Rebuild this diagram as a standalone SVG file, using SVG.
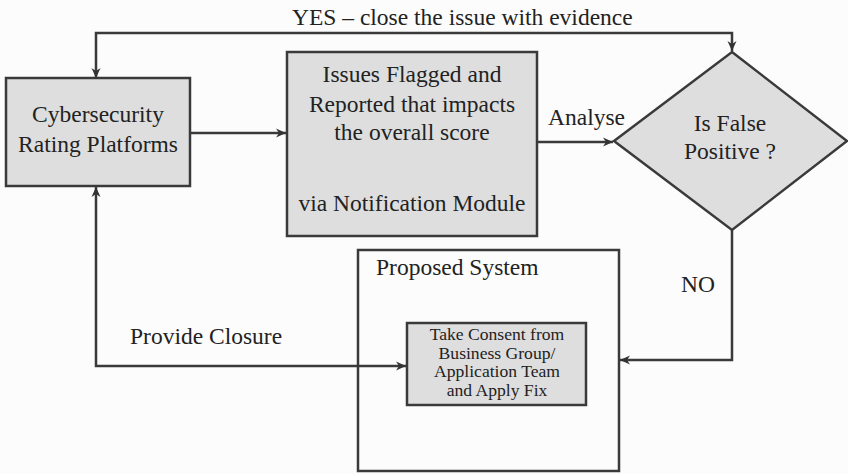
<svg xmlns="http://www.w3.org/2000/svg" width="848" height="474" viewBox="0 0 848 474" font-family="'Liberation Serif', 'Times New Roman', Times, serif">
<defs>
<marker id="arr" viewBox="0 0 12 12" refX="11" refY="6" markerWidth="12" markerHeight="12" markerUnits="userSpaceOnUse" orient="auto-start-reverse">
<path d="M1,1.5 L11,6 L1,10.5 L4,6 Z" fill="#333"/>
</marker>
</defs>
<style>
text{font-family:'Liberation Serif','Times New Roman',Times,serif;fill:#222;}
.t{font-size:23.5px;}
.s{font-size:17.6px;}
.box{fill:#dedede;stroke:#3a3a3a;stroke-width:2.5;}
.frame{fill:none;stroke:#3a3a3a;stroke-width:2.5;}
.c{fill:none;stroke:#3a3a3a;stroke-width:2.5;}
</style>
<rect x="0" y="0" width="848" height="474" fill="#fcfcfc"/>
<g id="connectors">
<polyline class="c" points="96,78 96,33 732,33 732,51" marker-start="url(#arr)" marker-end="url(#arr)"/>
<line class="c" x1="190" y1="133" x2="286" y2="133" marker-end="url(#arr)"/>
<line class="c" x1="515" y1="142" x2="613" y2="142" marker-end="url(#arr)"/>
<polyline class="c" points="732,230 732,360 620,360" marker-end="url(#arr)"/>
<polyline class="c" points="96,187 96,366 406,366" marker-start="url(#arr)" marker-end="url(#arr)"/>
<text class="t" x="292" y="25">YES – close the issue with evidence</text>
<text class="t" x="548" y="125">Analyse</text>
<text class="t" x="681" y="292">NO</text>
<text class="t" x="130" y="344">Provide Closure</text>
</g>
<g id="cybersecurity">
<rect class="box" x="6" y="78" width="184" height="108"/>
<text class="t" x="98" y="122" text-anchor="middle">Cybersecurity</text>
<text class="t" x="98" y="152" text-anchor="middle">Rating Platforms</text>
</g>
<g id="issues">
<rect class="box" x="287" y="52" width="250" height="184"/>
<text class="t" x="412" y="82" text-anchor="middle">Issues Flagged and</text>
<text class="t" x="412" y="112" text-anchor="middle">Reported that impacts</text>
<text class="t" x="412" y="140" text-anchor="middle">the overall score</text>
<text class="t" x="412" y="211" text-anchor="middle">via Notification Module</text>
</g>
<g id="decision">
<polygon class="box" points="732,52 847,141 732,230 614,141"/>
<text class="t" x="730" y="131" text-anchor="middle">Is False</text>
<text class="t" x="730" y="159" text-anchor="middle">Positive ?</text>
</g>
<g id="proposed-system">
<rect class="frame" x="358" y="250" width="261" height="221"/>
<text class="t" x="376" y="275">Proposed System</text>
</g>
<g id="consent">
<rect class="box" x="407" y="323" width="179" height="82"/>
<text class="s" x="497" y="340" text-anchor="middle">Take Consent from</text>
<text class="s" x="497" y="358.5" text-anchor="middle">Business Group/</text>
<text class="s" x="497" y="377" text-anchor="middle">Application Team</text>
<text class="s" x="497" y="395.5" text-anchor="middle">and Apply Fix</text>
</g>
</svg>
